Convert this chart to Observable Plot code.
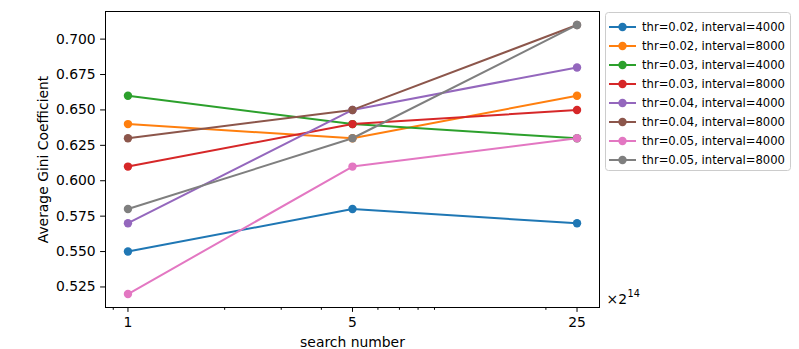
<!DOCTYPE html>
<html>
<head>
<meta charset="utf-8">
<script src="https://cdn.jsdelivr.net/npm/d3@7"></script>
<script src="https://cdn.jsdelivr.net/npm/@observablehq/plot@0.6"></script>
<style>
  html, body { margin: 0; padding: 0; background: #fff; }
  #wrap { position: relative; width: 799px; height: 349px; font-family: "DejaVu Sans", sans-serif; }
  #legend { position: absolute; left: 605px; top: 12px; pointer-events: none; }
</style>
</head>
<body>
<div id="wrap"></div>
<script>
// ---- data ----
const searchNumbers = [1, 5, 25];
const seriesNames = [
  "thr=0.02, interval=4000",
  "thr=0.02, interval=8000",
  "thr=0.03, interval=4000",
  "thr=0.03, interval=8000",
  "thr=0.04, interval=4000",
  "thr=0.04, interval=8000",
  "thr=0.05, interval=4000",
  "thr=0.05, interval=8000"
];
const s_002_4000 = [0.55, 0.58, 0.57];
const s_002_8000 = [0.64, 0.63, 0.66];
const s_003_4000 = [0.66, 0.64, 0.63];
const s_003_8000 = [0.61, 0.64, 0.65];
const s_004_4000 = [0.57, 0.65, 0.68];
const s_004_8000 = [0.63, 0.65, 0.71];
const s_005_4000 = [0.52, 0.61, 0.63];
const s_005_8000 = [0.58, 0.63, 0.71];
const seriesValues = [s_002_4000, s_002_8000, s_003_4000, s_003_8000, s_004_4000, s_004_8000, s_005_4000, s_005_8000];
const colors = ["#1f77b4", "#ff7f0e", "#2ca02c", "#d62728", "#9467bd", "#8c564b", "#e377c2", "#7f7f7f"];
const xTicks = [1, 5, 25];
const xMinorTicks = [0.9, 2, 3, 4, 6, 7, 8, 9, 20];
const yTicks = [0.525, 0.55, 0.575, 0.6, 0.625, 0.65, 0.675, 0.7];
const xLabel = "search number";
const yLabel = "Average Gini Coefficient";
const xOffsetBase = "×2";
const xOffsetExp = "14";

// ---- table ----
const rows = [];
seriesNames.forEach((name, i) => {
  searchNumbers.forEach((x, j) => rows.push({series: name, x, y: seriesValues[i][j]}));
});

const W = 799, H = 349;
const mL = 105, mR = 200, mT = 11, mB = 42;

const chart = Plot.plot({
  width: W, height: H,
  marginLeft: mL, marginRight: mR, marginTop: mT, marginBottom: mB,
  style: {fontFamily: "DejaVu Sans, sans-serif", fontSize: "13.9px", background: "#fff"},
  x: {type: "log", domain: [0.8513, 29.37]},
  y: {domain: [0.5105, 0.7195]},
  color: {domain: seriesNames, range: colors},
  marks: [
    Plot.axisX({ticks: xMinorTicks, tickSize: 2.8, tickPadding: 0, text: null, label: null, stroke: "black", strokeWidth: 1}),
    Plot.axisX({ticks: xTicks, tickSize: 4.9, tickPadding: 4.9, tickFormat: d => String(d), label: null, stroke: "black", strokeWidth: 1, fontSize: 13.9}),
    Plot.axisY({ticks: yTicks, tickSize: 4.9, tickPadding: 4.9, tickFormat: d3.format(".3f"), label: null, stroke: "black", strokeWidth: 1, fontSize: 13.9}),
    Plot.line(rows, {x: "x", y: "y", z: "series", stroke: "series", strokeWidth: 2}),
    Plot.dot(rows, {x: "x", y: "y", fill: "series", r: 4.2, stroke: "none"}),
    Plot.frame({stroke: "black", strokeWidth: 1}),
    Plot.frame({anchor: "top", stroke: "black", strokeWidth: 1}),
    Plot.frame({anchor: "bottom", stroke: "black", strokeWidth: 1}),
    Plot.frame({anchor: "left", stroke: "black", strokeWidth: 1}),
    Plot.frame({anchor: "right", stroke: "black", strokeWidth: 1}),
    Plot.text([xLabel], {text: d => d, frameAnchor: "bottom", lineAnchor: "middle", textAnchor: "middle", dy: 35, fontSize: 13.9, fill: "#000"}),
    Plot.text([yLabel], {text: d => d, frameAnchor: "left", lineAnchor: "middle", textAnchor: "middle", rotate: -90, dx: -62, fontSize: 13.9, fill: "#000"}),
    Plot.text([xOffsetBase], {text: d => d, frameAnchor: "bottom-right", lineAnchor: "middle", dx: 7, dy: -8, textAnchor: "start", fontSize: 13.9, fill: "#000"}),
    Plot.text([xOffsetExp], {text: d => d, frameAnchor: "bottom-right", lineAnchor: "middle", dx: 28, dy: -14, textAnchor: "start", fontSize: 9.7, fill: "#000"})
  ]
});
document.getElementById("wrap").appendChild(chart);

// ---- legend (drawn with d3 from the same arrays) ----
const lw = 185, lh = 158, rowH = 19;
const leg = d3.select("#wrap").append("svg")
  .attr("id", "legend").attr("width", lw + 2).attr("height", lh + 2);
leg.append("rect").attr("x", 0.5).attr("y", 0.5).attr("width", lw).attr("height", lh)
  .attr("rx", 3).attr("fill", "#fff").attr("fill-opacity", 0.8).attr("stroke", "#cccccc").attr("stroke-width", 1);
seriesNames.forEach((name, i) => {
  const cy = 15 + i * rowH;
  leg.append("line").attr("x1", 4).attr("x2", 31).attr("y1", cy).attr("y2", cy)
    .attr("stroke", colors[i]).attr("stroke-width", 2);
  leg.append("circle").attr("cx", 17.5).attr("cy", cy).attr("r", 4.2).attr("fill", colors[i]);
  leg.append("text").attr("x", 37).attr("y", cy).attr("dy", "0.35em")
    .attr("font-family", "DejaVu Sans, sans-serif").attr("font-size", 11.6).attr("fill", "#000").text(name);
});
</script>
</body>
</html>
